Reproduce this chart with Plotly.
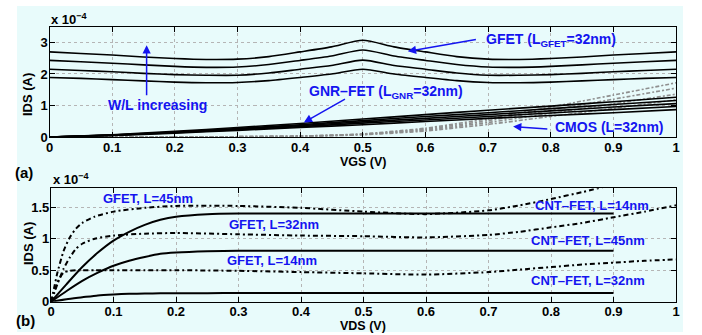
import plotly.graph_objects as go

# ---------------- data: panel (a) ----------------
vgs_gfet = [0, 0.05, 0.1, 0.15, 0.2, 0.25, 0.3, 0.35, 0.4, 0.45, 0.5,
            0.55, 0.6, 0.65, 0.7, 0.75, 0.8, 0.85, 0.9, 0.95, 1.0]
gfet_1 = [2.70, 2.65, 2.60, 2.54, 2.49, 2.46, 2.47, 2.55, 2.70, 2.86, 3.07,
          2.86, 2.70, 2.55, 2.47, 2.46, 2.49, 2.54, 2.60, 2.65, 2.70]
gfet_2 = [2.43, 2.39, 2.34, 2.29, 2.24, 2.21, 2.22, 2.30, 2.43, 2.57, 2.76,
          2.57, 2.43, 2.30, 2.22, 2.21, 2.24, 2.29, 2.34, 2.39, 2.43]
gfet_3 = [2.15, 2.11, 2.07, 2.02, 1.98, 1.96, 1.96, 2.03, 2.15, 2.27, 2.44,
          2.27, 2.15, 2.03, 1.96, 1.96, 1.98, 2.02, 2.07, 2.11, 2.15]
gfet_4 = [1.89, 1.86, 1.82, 1.78, 1.74, 1.72, 1.73, 1.79, 1.89, 2.00, 2.15,
          2.00, 1.89, 1.79, 1.73, 1.72, 1.74, 1.78, 1.82, 1.86, 1.89]

vgs_lin = [0, 0.1, 0.2, 0.3, 0.4, 0.5, 0.6, 0.7, 0.8, 0.9, 1.0]
gnr_1 = [0, 0.07, 0.18, 0.30, 0.43, 0.57, 0.71, 0.85, 0.98, 1.12, 1.26]
gnr_2 = [0, 0.06, 0.16, 0.27, 0.39, 0.52, 0.65, 0.77, 0.90, 1.03, 1.16]
gnr_3 = [0, 0.06, 0.15, 0.25, 0.36, 0.48, 0.59, 0.71, 0.83, 0.95, 1.06]
gnr_4 = [0, 0.05, 0.14, 0.23, 0.33, 0.44, 0.54, 0.65, 0.76, 0.87, 0.97]
gnr_5 = [0, 0.05, 0.12, 0.21, 0.30, 0.39, 0.49, 0.59, 0.68, 0.77, 0.87]

cmos_1 = [0, 0.002, 0.005, 0.01, 0.03, 0.10, 0.28, 0.58, 0.95, 1.33, 1.72]
cmos_2 = [0, 0.002, 0.004, 0.01, 0.03, 0.09, 0.25, 0.52, 0.85, 1.20, 1.55]
cmos_3 = [0, 0.002, 0.004, 0.01, 0.02, 0.08, 0.22, 0.46, 0.75, 1.05, 1.36]
cmos_4 = [0, 0.001, 0.003, 0.008, 0.02, 0.07, 0.19, 0.40, 0.65, 0.91, 1.18]

# ---------------- data: panel (b) ----------------
vds_gfet = [0, 0.025, 0.05, 0.075, 0.1, 0.125, 0.15, 0.175, 0.2, 0.25, 0.3,
            0.4, 0.5, 0.6, 0.7, 0.8, 0.9]
gfet_b1 = [0, 0.28, 0.55, 0.78, 0.97, 1.11, 1.22, 1.30, 1.35, 1.39, 1.40,
           1.40, 1.40, 1.40, 1.40, 1.40, 1.40]
gfet_b2 = [0, 0.17, 0.33, 0.46, 0.57, 0.65, 0.71, 0.76, 0.78, 0.80, 0.81,
           0.81, 0.81, 0.81, 0.81, 0.81, 0.81]
gfet_b3 = [0, 0.04, 0.07, 0.10, 0.115, 0.125, 0.13, 0.133, 0.135, 0.136, 0.137,
           0.137, 0.137, 0.137, 0.137, 0.137, 0.137]

vds_cnt = [0, 0.005, 0.01, 0.02, 0.03, 0.04, 0.05, 0.07, 0.1, 0.15, 0.2, 0.3,
           0.4, 0.5, 0.6, 0.7, 0.75, 0.8, 0.85, 0.9, 0.95, 1.0]
cnt_1 = [0, 0.22, 0.45, 0.80, 1.02, 1.16, 1.25, 1.35, 1.43, 1.49, 1.52, 1.52,
         1.49, 1.43, 1.39, 1.45, 1.53, 1.63, 1.74, 1.86, 1.98, 2.10]
cnt_2 = [0, 0.13, 0.27, 0.52, 0.70, 0.84, 0.92, 1.00, 1.05, 1.08, 1.09, 1.07,
         1.05, 1.04, 1.02, 1.06, 1.11, 1.18, 1.25, 1.34, 1.43, 1.53]
cnt_3 = [0, 0.15, 0.30, 0.46, 0.49, 0.50, 0.50, 0.50, 0.50, 0.50, 0.50, 0.49,
         0.47, 0.45, 0.43, 0.47, 0.51, 0.55, 0.59, 0.62, 0.65, 0.67]

x_ticks = [0, 0.1, 0.2, 0.3, 0.4, 0.5, 0.6, 0.7, 0.8, 0.9, 1]
y_ticks_a = [0, 1, 2, 3]
y_ticks_b = [0, 0.5, 1, 1.5]

# ---------------- figure ----------------
W, H = 702, 335
BLUE = "#1414f0"
FONT = "Liberation Sans"

fig = go.Figure()

def px_x(p):
    return p / W

def px_y(p):
    return 1 - p / H

for ys in [gfet_1, gfet_2, gfet_3, gfet_4]:
    fig.add_trace(go.Scatter(x=vgs_gfet, y=ys, mode="lines",
                             line=dict(color="black", width=1.6, shape="spline", smoothing=0.7),
                             xaxis="x", yaxis="y", showlegend=False))
for ys in [cmos_1, cmos_2, cmos_3, cmos_4]:
    fig.add_trace(go.Scatter(x=vgs_lin, y=ys, mode="lines",
                             line=dict(color="#8f8f8f", width=1.6, dash="4px,2px,2px,2px",
                                       shape="spline", smoothing=0.5),
                             xaxis="x", yaxis="y", showlegend=False))
for ys in [gnr_1, gnr_2, gnr_3, gnr_4, gnr_5]:
    fig.add_trace(go.Scatter(x=vgs_lin, y=ys, mode="lines",
                             line=dict(color="black", width=1.6, shape="spline", smoothing=0.5),
                             xaxis="x", yaxis="y", showlegend=False))

for ys in [gfet_b1, gfet_b2, gfet_b3]:
    fig.add_trace(go.Scatter(x=vds_gfet, y=ys, mode="lines",
                             line=dict(color="black", width=2, shape="spline", smoothing=0.6),
                             xaxis="x2", yaxis="y2", showlegend=False))
for ys in [cnt_1, cnt_2, cnt_3]:
    fig.add_trace(go.Scatter(x=vds_cnt, y=ys, mode="lines",
                             line=dict(color="black", width=2, dash="5px,3px,2px,3px",
                                       shape="spline", smoothing=0.6),
                             xaxis="x2", yaxis="y2", showlegend=False))

tickfont = dict(family=FONT, size=13, color="black", weight="bold")
common_axis = dict(showline=True, linecolor="black", linewidth=1.3, mirror="allticks",
                   ticks="inside", ticklen=5, tickwidth=1.2, tickcolor="black",
                   showgrid=True, gridcolor="#b5b5b5", griddash="dot", gridwidth=1,
                   zeroline=False, tickfont=tickfont, automargin=False,
                   ticklabelstandoff=-2)

fig.update_layout(
    template="none",
    width=W, height=H,
    margin=dict(l=0, r=0, t=0, b=0),
    paper_bgcolor="white",
    plot_bgcolor="rgba(0,0,0,0)",
    showlegend=False,
    font=dict(family=FONT, color="black"),
    xaxis=dict(domain=[px_x(49.5), px_x(676)], range=[0, 1], tickvals=x_ticks, anchor="y",
               **common_axis),
    yaxis=dict(domain=[px_y(137), px_y(26.7)], range=[0, 3.5], tickvals=y_ticks_a,
               anchor="x", **common_axis),
    xaxis2=dict(domain=[px_x(51), px_x(676)], range=[0, 1], tickvals=x_ticks, anchor="y2",
                **common_axis),
    yaxis2=dict(domain=[px_y(301.7), px_y(188.3)], range=[0, 1.8], tickvals=y_ticks_b,
                ticktext=["0", "0.5", "1", "1.5"], anchor="x2", **common_axis),
)

fig.add_shape(type="rect", xref="paper", yref="paper",
              x0=px_x(17), x1=px_x(683), y0=px_y(332), y1=px_y(6),
              fillcolor="#e8fbfb", line=dict(width=0), layer="below")

ann = []
def txt(text, x, y, size=14, color=BLUE, xref="x", yref="y", xanchor="center", textangle=0):
    ann.append(dict(text=text, x=x, y=y, xref=xref, yref=yref, showarrow=False,
                    xanchor=xanchor, yanchor="middle", textangle=textangle,
                    font=dict(family=FONT, size=size, color=color, weight="bold")))

def arrow(x, y, ax, ay, xref="x", yref="y"):
    ann.append(dict(text="", x=x, y=y, ax=ax, ay=ay, xref=xref, yref=yref,
                    axref=xref, ayref=yref, showarrow=True, arrowhead=2,
                    arrowsize=1.1, arrowwidth=1.5, arrowcolor=BLUE))

# panel (a) texts
txt("GFET (L<sub>GFET</sub>=32nm)", 0.80, 3.07)
arrow(0.572, 2.72, 0.683, 3.10)
txt("W/L increasing", 0.173, 1.02)
arrow(0.155, 2.91, 0.155, 1.28)
txt("GNR–FET (L<sub>GNR</sub>=32nm)", 0.537, 1.44)
arrow(0.406, 0.46, 0.474, 1.23)
txt("CMOS (L=32nm)", 0.894, 0.33)
arrow(0.74, 0.33, 0.797, 0.25)

# panel (b) texts
for t, x, y in [("GFET, L=45nm", 0.155, 1.64), ("GFET, L=32nm", 0.356, 1.23),
                ("GFET, L=14nm", 0.354, 0.66), ("CNT–FET, L=14nm", 0.865, 1.53),
                ("CNT–FET, L=45nm", 0.859, 0.97), ("CNT–FET, L=32nm", 0.859, 0.34)]:
    txt(t, x, y, size=13, xref="x2", yref="y2")

# axis titles, exponents and panel labels
txt("VGS (V)", px_x(363), px_y(162), size=12.5, color="black", xref="paper", yref="paper")
txt("VDS (V)", px_x(363), px_y(326), size=12.5, color="black", xref="paper", yref="paper")
txt("IDS (A)", px_x(28), px_y(95), size=13, color="black", xref="paper", yref="paper",
    textangle=-90)
txt("IDS (A)", px_x(28), px_y(244), size=13, color="black", xref="paper", yref="paper",
    textangle=-90)
txt("x 10<sup>−4</sup>", px_x(49), px_y(19), size=13, color="black", xref="paper",
    yref="paper", xanchor="left")
txt("x 10<sup>−4</sup>", px_x(51), px_y(179), size=13, color="black", xref="paper",
    yref="paper", xanchor="left")
txt("(a)", px_x(13), px_y(172), size=15, color="black", xref="paper", yref="paper",
    xanchor="left")
txt("(b)", px_x(14), px_y(320), size=15, color="black", xref="paper", yref="paper",
    xanchor="left")

fig.update_layout(annotations=ann)
fig.write_html("out.html", config={"displayModeBar": False},
               post_script="document.body.style.margin='0';document.body.style.padding='0';")
